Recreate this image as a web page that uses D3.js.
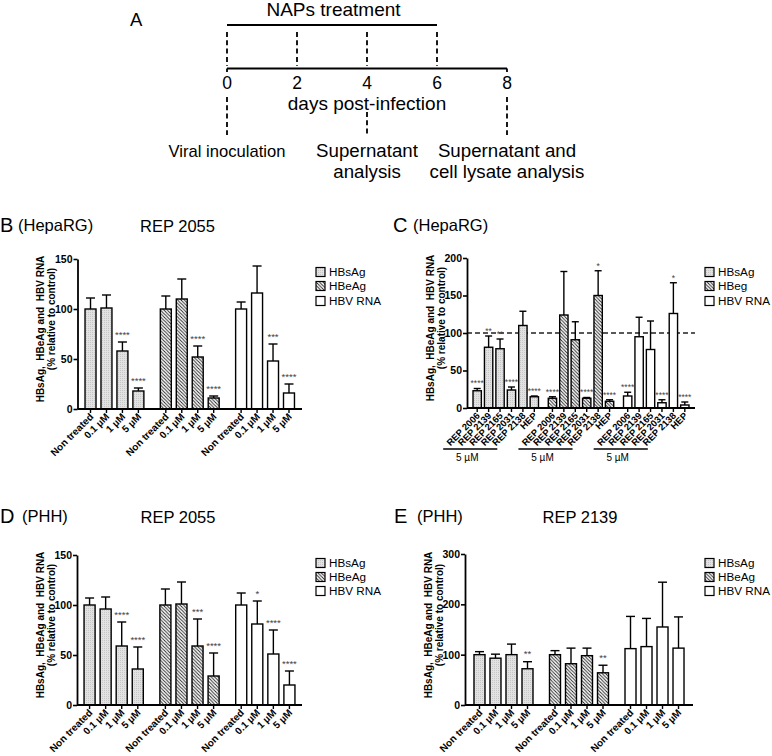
<!DOCTYPE html>
<html><head><meta charset="utf-8">
<script src="https://cdn.jsdelivr.net/npm/d3@7"></script>
<style>body{margin:0;background:#fff} svg{display:block;font-family:"Liberation Sans",Arial,Helvetica,sans-serif}</style>
</head><body><svg id="c" width="772" height="756"></svg>
<script>
// ---------- DATA ----------
const timelineTicks = [0, 2, 4, 6, 8];
const treatmentDays = [0, 2, 4, 6];
const eventDays = [0, 4, 8];
const eventLabels = [["Viral inoculation"], ["Supernatant", "analysis"], ["Supernatant and", "cell lysate analysis"]];

const legendMarkers = ["HBsAg", "HBeAg", "HBV RNA"];
const legendMarkersC = ["HBsAg", "HBeg", "HBV RNA"];
const doses = ["Non treated", "0.1 µM", "1 µM", "5 µM"];
const compounds = ["REP 2006", "REP 2139", "REP 2165", "REP 2031", "REP 2138", "HEP"];
const compoundNote = "5 µM";

const B_mean  = [[100, 101, 58, 18], [100, 110, 52, 11], [100, 116, 48, 16]];
const B_upper = [[111, 114, 67, 21], [113, 130, 63, 13], [107, 143, 65, 25]];
const B_stars = [["", "", "****", "****"], ["", "", "****", "****"], ["", "", "***", "****"]];

const C_mean  = [[23, 81, 79, 24, 110, 15], [13, 124, 91, 13, 150, 9], [16, 95, 78, 7, 126, 4]];
const C_upper = [[26, 96, 92, 28, 129, 16], [15, 182, 115, 14, 183, 11], [21, 121, 116, 11, 167, 8]];
const C_stars = [["****", "**", "**", "****", "", "****"], ["****", "", "", "****", "*", "****"], ["****", "", "", "****", "*", "****"]];

const D_mean  = [[100, 96, 59, 36], [100, 101, 59, 29], [100, 81, 51, 20]];
const D_upper = [[107, 108, 83, 58], [116, 123, 86, 52], [112, 104, 75, 34]];
const D_stars = [["", "", "****", "****"], ["", "", "***", "****"], ["", "*", "****", "****"]];

const E_mean  = [[100, 93, 100, 72], [100, 82, 98, 64], [112, 116, 155, 113]];
const E_upper = [[106, 101, 121, 86], [108, 113, 113, 79], [176, 172, 244, 175]];
const E_stars = [["", "", "", "**"], ["", "", "", "**"], ["", "", "", ""]];

const yTitle = ["HBsAg,\u00a0\u00a0HBeAg and\u00a0 HBV RNA", "(% relative to control)"];

// ---------- SETUP ----------
const svg = d3.select("#c");
const defs = svg.append("defs");
const pS = defs.append("pattern").attr("id", "pS").attr("patternUnits", "userSpaceOnUse").attr("width", 2).attr("height", 2);
pS.append("rect").attr("width", 2).attr("height", 2).attr("fill", "#e2e2e2");
pS.append("rect").attr("width", 1).attr("height", 1).attr("fill", "#c6c6c6");
const pE = defs.append("pattern").attr("id", "pE").attr("patternUnits", "userSpaceOnUse").attr("width", 3.4).attr("height", 3.4);
pE.append("rect").attr("width", 3.4).attr("height", 3.4).attr("fill", "#fff");
pE.append("path").attr("d", "M0,0L3.4,3.4M-1,2.4L1,4.4M2.4,-1L4.4,1").attr("stroke", "#222").attr("stroke-width", 0.9);
const fills = ["url(#pS)", "url(#pE)", "#ffffff"];

// ---------- PANEL A: timeline ----------
const tx = d3.scaleLinear().domain([0, 8]).range([227, 507]);
const A = svg.append("g");
A.append("text").attr("x", 130).attr("y", 26).attr("font-size", 18.5).text("A");
A.append("text").attr("x", 333.5).attr("y", 16).attr("text-anchor", "middle").attr("font-size", 19).text("NAPs treatment");
A.append("line").attr("x1", tx(0)).attr("x2", tx(d3.max(treatmentDays))).attr("y1", 25).attr("y2", 25).attr("stroke", "#000").attr("stroke-width", 2);
A.selectAll(".tdash").data(treatmentDays).join("line")
  .attr("x1", d => tx(d)).attr("x2", d => tx(d)).attr("y1", 32).attr("y2", 66)
  .attr("stroke", "#000").attr("stroke-width", 1.8).attr("stroke-dasharray", "5,3.3");
A.append("line").attr("x1", tx(0)).attr("x2", tx(8)).attr("y1", 68.5).attr("y2", 68.5).attr("stroke", "#000").attr("stroke-width", 2);
A.selectAll(".endtick").data([0, 8]).join("line")
  .attr("x1", d => tx(d)).attr("x2", d => tx(d)).attr("y1", 68.5).attr("y2", 72).attr("stroke", "#000").attr("stroke-width", 1.8);
A.selectAll(".tl").data(timelineTicks).join("text")
  .attr("x", d => tx(d)).attr("y", 89).attr("text-anchor", "middle").attr("font-size", 17.5).text(d => d);
A.append("text").attr("x", tx(4)).attr("y", 110).attr("text-anchor", "middle").attr("font-size", 19).text("days post-infection");
A.selectAll(".edash").data(eventDays).join("line")
  .attr("x1", d => tx(d)).attr("x2", d => tx(d)).attr("y1", d => d === 4 ? 112 : 97).attr("y2", 135)
  .attr("stroke", "#000").attr("stroke-width", 1.8).attr("stroke-dasharray", "5,3.3");
const evSize = [16.6, 18.7, 18.7];
eventLabels.forEach((lines, i) => {
  const x = tx(eventDays[i]);
  A.append("text").attr("x", x).attr("y", 157).attr("text-anchor", "middle").attr("font-size", evSize[i])
    .selectAll("tspan").data(lines).join("tspan").attr("x", x).attr("dy", (d, j) => j ? 21 : 0).text(d => d);
});

// ---------- BAR PANELS ----------
function panel(c) {
  const g = svg.append("g");
  const y = d3.scaleLinear().domain([0, c.yMax]).range([c.y0, c.yTop]);
  const x0 = d3.scaleBand().domain(d3.range(c.mean.length)).range([c.xL, c.xR]).paddingInner(c.pi).paddingOuter(c.po);
  const x1 = d3.scaleBand().domain(c.cats).range([0, x0.bandwidth()]).paddingInner(c.pi1).paddingOuter(0);
  const rows = c.mean.flatMap((arr, gi) => arr.map((v, ci) => ({gi, ci, cat: c.cats[ci], v, up: c.upper[gi][ci], star: c.stars[gi][ci]})));
  const cx = d => x0(d.gi) + x1(d.cat) + x1.bandwidth() / 2;

  // header
  g.append("text").attr("x", c.letterX).attr("y", c.headY).attr("font-size", 20).text(c.letter);
  g.append("text").attr("x", c.cellX).attr("y", c.headY - 1).attr("font-size", 16.5).text(c.cell);
  if (c.title) g.append("text").attr("x", c.titleX).attr("y", c.headY).attr("text-anchor", "middle").attr("font-size", 16.5).text(c.title);

  // y title
  const mids = [c.y0 - 80, c.y0 - 90];
  yTitle.forEach((t, i) => {
    g.append("text").attr("transform", `translate(${c.xL - 37 + i * 11},${mids[i]}) rotate(-90)`)
      .attr("text-anchor", "middle").attr("dy", "0.35em").attr("font-size", 10).attr("font-weight", "bold").text(t);
  });

  // reference line
  if (c.ref != null) {
    g.append("line").attr("x1", c.xL).attr("x2", c.xR).attr("y1", y(c.ref)).attr("y2", y(c.ref))
      .attr("stroke", "#222").attr("stroke-width", 1.6).attr("stroke-dasharray", "5,3");
  }

  // error bars
  g.selectAll(".err").data(rows).join("line")
    .attr("x1", cx).attr("x2", cx).attr("y1", d => y(d.v)).attr("y2", d => y(d.up))
    .attr("stroke", "#000").attr("stroke-width", 1.4);
  g.selectAll(".cap").data(rows).join("line")
    .attr("x1", d => cx(d) - c.capW / 2).attr("x2", d => cx(d) + c.capW / 2).attr("y1", d => y(d.up)).attr("y2", d => y(d.up))
    .attr("stroke", "#000").attr("stroke-width", 1.4);

  // bars
  g.selectAll(".bar").data(rows).join("rect")
    .attr("x", d => x0(d.gi) + x1(d.cat)).attr("width", x1.bandwidth())
    .attr("y", d => y(d.v)).attr("height", d => y(0) - y(d.v))
    .attr("fill", d => fills[d.gi]).attr("stroke", "#000").attr("stroke-width", 1.4);

  // stars
  g.selectAll(".star").data(rows.filter(d => d.star)).join("text")
    .attr("x", cx).attr("y", d => y(d.up) - c.starGap + 0.58 * c.starFont)
    .attr("text-anchor", "middle").attr("font-size", c.starFont).attr("fill", "#444").text(d => d.star);

  // y axis
  const ya = g.append("g").attr("transform", `translate(${c.xL},0)`)
    .call(d3.axisLeft(y).tickValues(c.ticks).tickSize(4).tickSizeOuter(0).tickPadding(1).tickFormat(d3.format("d")));
  ya.select(".domain").attr("stroke-width", 1.8);
  ya.selectAll(".tick line").attr("stroke-width", 1.6);
  ya.selectAll(".tick text").attr("font-size", 10.5).attr("font-weight", "bold").attr("font-family", "Liberation Sans, Arial, sans-serif").attr("fill", "#000");

  // x axis
  g.append("line").attr("x1", c.xL).attr("x2", c.xR).attr("y1", c.y0).attr("y2", c.y0).attr("stroke", "#000").attr("stroke-width", 1.8);
  g.selectAll(".xt").data(rows).join("line")
    .attr("x1", cx).attr("x2", cx).attr("y1", c.y0).attr("y2", c.y0 + 4).attr("stroke", "#000").attr("stroke-width", 1.4);
  g.selectAll(".xl").data(rows).join("text")
    .attr("transform", d => `translate(${cx(d) + 1},${c.y0 + 6}) rotate(-45)`)
    .attr("text-anchor", "end").attr("dy", "0.35em").attr("font-size", c.labelFont).attr("font-weight", "bold").text(d => d.cat);

  // group notes (panel C)
  if (c.note) {
    d3.range(c.mean.length).forEach(gi => {
      const a = x0(gi) + x1(c.cats[0]) + x1.bandwidth() / 2 - 34;
      const b = x0(gi) + x1(c.cats[c.cats.length - 1]) + x1.bandwidth() / 2 - 37;
      g.append("line").attr("x1", a).attr("x2", b).attr("y1", c.y0 + 41).attr("y2", c.y0 + 41).attr("stroke", "#000").attr("stroke-width", 1.4);
      g.append("text").attr("x", (a + b) / 2 - 3).attr("y", c.y0 + 53).attr("text-anchor", "middle").attr("font-size", 10).text(c.note);
    });
  }

  // legend
  const lg = g.append("g");
  lg.selectAll("rect").data(c.legend).join("rect")
    .attr("x", c.legX).attr("y", (d, i) => c.legY[i] - 4.5).attr("width", 9).attr("height", 9)
    .attr("fill", (d, i) => fills[i]).attr("stroke", "#000").attr("stroke-width", 1.2);
  lg.selectAll("text").data(c.legend).join("text")
    .attr("x", c.legX + 13).attr("y", (d, i) => c.legY[i]).attr("dy", "0.35em").attr("font-size", 11.7).text(d => d);
}

panel({letter: "B", letterX: 0, cell: "(HepaRG)", cellX: 18, title: "REP 2055", titleX: 177.5, headY: 232,
  xL: 77.5, xR: 302, y0: 409, yTop: 259, yMax: 150, ticks: [0, 50, 100, 150], pi: 0.2185, po: 0.1, pi1: 0.3125,
  cats: doses, mean: B_mean, upper: B_upper, stars: B_stars, capW: 9, labelFont: 10, starFont: 9.5, starGap: 10,
  legend: legendMarkers, legX: 316, legY: [272, 286, 301]});

panel({letter: "C", letterX: 393, cell: "(HepaRG)", cellX: 413, title: null, headY: 232,
  xL: 467, xR: 695, y0: 408, yTop: 258, yMax: 200, ticks: [0, 50, 100, 150, 200], pi: 0.13, po: 0.08, pi1: 0.27,
  cats: compounds, mean: C_mean, upper: C_upper, stars: C_stars, capW: 7, labelFont: 9.4, starFont: 8.5, starGap: 7,
  ref: 100, note: compoundNote, legend: legendMarkersC, legX: 705, legY: [272, 286, 301]});

panel({letter: "D", letterX: 0, cell: "(PHH)", cellX: 22, title: "REP 2055", titleX: 178, headY: 523,
  xL: 77, xR: 302, y0: 705, yTop: 555, yMax: 150, ticks: [0, 50, 100, 150], pi: 0.2185, po: 0.093, pi1: 0.3125,
  cats: doses, mean: D_mean, upper: D_upper, stars: D_stars, capW: 9, labelFont: 10, starFont: 9.5, starGap: 10,
  legend: legendMarkers, legX: 316, legY: [563, 577, 591]});

panel({letter: "E", letterX: 394, cell: "(PHH)", cellX: 417, title: "REP 2139", titleX: 580, headY: 523,
  xL: 465, xR: 693, y0: 705, yTop: 554, yMax: 300, ticks: [0, 100, 200, 300], pi: 0.2185, po: 0.119, pi1: 0.3125,
  cats: doses, mean: E_mean, upper: E_upper, stars: E_stars, capW: 9, labelFont: 10, starFont: 9.5, starGap: 10,
  legend: legendMarkers, legX: 705, legY: [563, 577, 591]});
</script>
</body></html>
